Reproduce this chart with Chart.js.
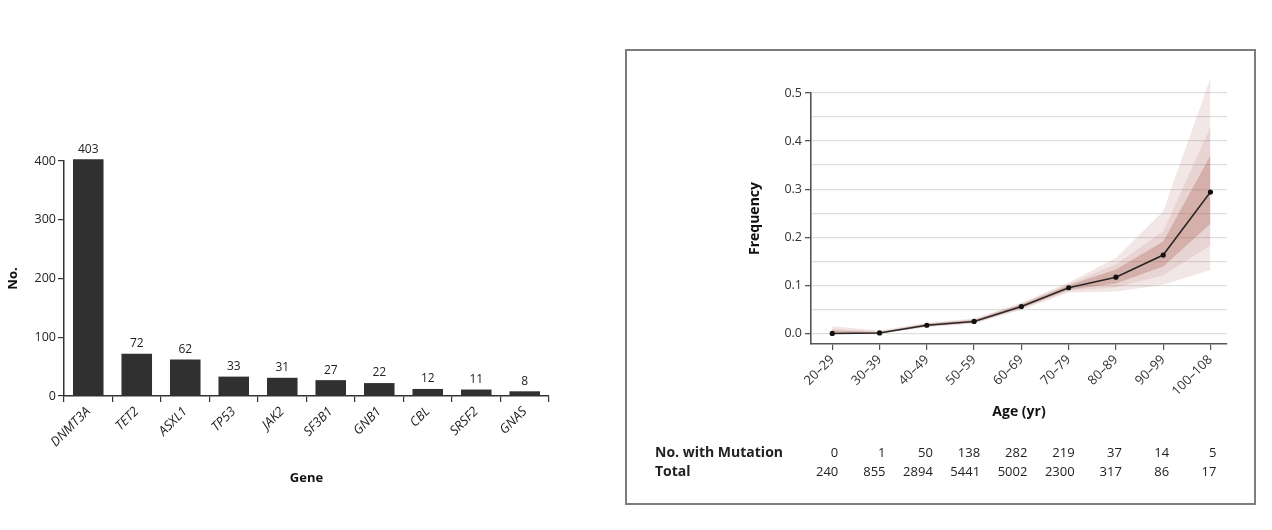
<!DOCTYPE html>
<html>
<head>
<meta charset="utf-8">
<script src="https://cdn.jsdelivr.net/npm/chart.js@4.4.1/dist/chart.umd.min.js"></script>
<style>
    body { margin: 0; background: #fff; width: 1272px; height: 530px; position: relative; overflow: hidden; }
    #left { position: absolute; left: 0; top: 130px; width: 560px; height: 370px; }
    #box { position: absolute; left: 625px; top: 49px; width: 631px; height: 456px; border: 2px solid #7d7d7d; box-sizing: border-box; }
    #right { position: absolute; left: 0; top: 0; width: 627px; height: 452px; }
</style>
</head>
<body>
<div id="left"><canvas id="geneChart" width="560" height="370"></canvas></div>
<div id="box"><div id="right"><canvas id="ageChart" width="627" height="452"></canvas></div></div>
<script>
// Datos del gráfico de barras (genes)
const genes = ['DNMT3A', 'TET2', 'ASXL1', 'TP53', 'JAK2', 'SF3B1', 'GNB1', 'CBL', 'SRSF2', 'GNAS'];
const geneCounts = [403, 72, 62, 33, 31, 27, 22, 12, 11, 8];
const geneTicks = [0, 100, 200, 300, 400];

// Datos del gráfico de frecuencia por edad
const ages = ['20–29', '30–39', '40–49', '50–59', '60–69', '70–79', '80–89', '90–99', '100–108'];
const frequency = [0.000, 0.001, 0.017, 0.025, 0.056, 0.095, 0.117, 0.163, 0.294];
const outerHi = [0.015, 0.006, 0.022, 0.031, 0.064, 0.106, 0.157, 0.254, 0.531];
const outerLo = [0.000, 0.000, 0.013, 0.020, 0.049, 0.085, 0.087, 0.101, 0.132];
const midHi   = [0.010, 0.004, 0.021, 0.029, 0.062, 0.103, 0.144, 0.212, 0.430];
const midLo   = [0.000, 0.000, 0.014, 0.021, 0.051, 0.088, 0.096, 0.121, 0.183];
const innerHi = [0.006, 0.003, 0.020, 0.028, 0.060, 0.100, 0.133, 0.191, 0.370];
const innerLo = [0.000, 0.000, 0.015, 0.023, 0.053, 0.091, 0.104, 0.139, 0.228];
const freqTicks = [0, 0.05, 0.1, 0.15, 0.2, 0.25, 0.3, 0.35, 0.4, 0.45, 0.5];
const withMutation = [0, 1, 50, 138, 282, 219, 37, 14, 5];
const totals = [240, 855, 2894, 5441, 5002, 2300, 317, 86, 17];

const FONT = '"Open Sans", "DejaVu Sans", sans-serif';
Chart.defaults.font.family = FONT;
Chart.defaults.color = '#333';
Chart.defaults.animation = false;

// Etiquetas encima de cada barra
const barLabels = {
    id: 'barLabels',
    afterDatasetsDraw(chart) {
        const ctx = chart.ctx;
        const meta = chart.getDatasetMeta(0);
        ctx.save();
        ctx.font = '12px ' + FONT;
        ctx.fillStyle = '#222';
        ctx.textAlign = 'center';
        ctx.textBaseline = 'bottom';
        meta.data.forEach((bar, i) => {
            ctx.fillText(String(geneCounts[i]), bar.x, bar.y - 4);
        });
        ctx.restore();
    }
};

new Chart(document.getElementById('geneChart'), {
    type: 'bar',
    data: {
        labels: genes,
        datasets: [{
            data: geneCounts,
            backgroundColor: '#303030',
            barPercentage: 0.63,
            categoryPercentage: 1,
            clip: false
        }]
    },
    options: {
        responsive: false,
        layout: { padding: { left: 0, top: 31, right: 11, bottom: 10 } },
        plugins: { legend: { display: false }, tooltip: { enabled: false } },
        scales: {
            x: {
                afterFit: s => { s.height = 94; },
                border: { color: '#333', width: 1.5 },
                grid: { drawOnChartArea: false, tickLength: 6, color: '#333', lineWidth: 1.2 },
                ticks: { minRotation: 45, maxRotation: 45, padding: 2, color: '#222', font: { size: 13, style: 'italic' } },
                title: { display: true, text: 'Gene', color: '#111', font: { size: 13, weight: 'bold' }, padding: { top: 0, bottom: 4 } }
            },
            y: {
                min: 0,
                max: 400,
                afterFit: s => { s.width = 64; },
                afterBuildTicks: s => { s.ticks = geneTicks.map(v => ({ value: v })); },
                border: { color: '#333', width: 1.5 },
                grid: { drawOnChartArea: false, tickLength: 6, color: '#333', lineWidth: 1.2 },
                ticks: { padding: 2, color: '#222', font: { size: 12.5 } },
                title: { display: true, text: 'No.', color: '#111', font: { size: 13, weight: 'bold' }, padding: { top: 5, bottom: 0 } }
            }
        }
    },
    plugins: [barLabels]
});

// Tabla debajo del eje x
const ageTable = {
    id: 'ageTable',
    afterDraw(chart) {
        const ctx = chart.ctx;
        const x = chart.scales.x;
        const rows = [['No. with Mutation', withMutation, 402], ['Total', totals, 421]];
        ctx.save();
        ctx.fillStyle = '#222';
        ctx.textBaseline = 'middle';
        rows.forEach(([name, vals, y]) => {
            ctx.font = 'bold 14px ' + FONT;
            ctx.textAlign = 'left';
            ctx.fillText(name, 28, y);
            ctx.font = '13px ' + FONT;
            ctx.textAlign = 'right';
            vals.forEach((v, i) => ctx.fillText(String(v), x.getPixelForValue(i) + 6, y));
        });
        ctx.restore();
    }
};

// Las bandas superan 0.5: se amplía el área mientras se dibujan los datasets
const bandOverflow = {
    id: 'bandOverflow',
    beforeDatasetsDraw(chart) {
        chart._areaBackup = chart.chartArea;
        chart.chartArea = Object.assign({}, chart.chartArea, { top: chart.chartArea.top - 30 });
    },
    afterDatasetsDraw(chart) {
        chart.chartArea = chart._areaBackup;
    }
};

const band = 'rgba(170, 95, 85, ';
const isMajor = v => Math.round(v * 100) % 10 === 0;

new Chart(document.getElementById('ageChart'), {
    type: 'line',
    data: {
        datasets: [
            { data: frequency.map((v, i) => ({ x: i, y: v })), borderColor: '#262626', borderWidth: 1.5,
              pointRadius: 2.6, pointBackgroundColor: '#111', pointBorderWidth: 0, fill: false },
            { data: innerHi.map((v, i) => ({ x: i, y: v })), pointRadius: 0, borderWidth: 0, fill: false, clip: false },
            { data: innerLo.map((v, i) => ({ x: i, y: v })), pointRadius: 0, borderWidth: 0, fill: '-1', clip: false, backgroundColor: band + '0.32)' },
            { data: midHi.map((v, i) => ({ x: i, y: v })), pointRadius: 0, borderWidth: 0, fill: false, clip: false },
            { data: midLo.map((v, i) => ({ x: i, y: v })), pointRadius: 0, borderWidth: 0, fill: '-1', clip: false, backgroundColor: band + '0.13)' },
            { data: outerHi.map((v, i) => ({ x: i, y: v })), pointRadius: 0, borderWidth: 0, fill: false, clip: false },
            { data: outerLo.map((v, i) => ({ x: i, y: v })), pointRadius: 0, borderWidth: 0, fill: '-1', clip: false, backgroundColor: band + '0.15)' }
        ]
    },
    options: {
        responsive: false,
        layout: { padding: { left: 112, top: 42, right: 27, bottom: 79 } },
        plugins: { legend: { display: false }, tooltip: { enabled: false } },
        scales: {
            x: {
                type: 'linear',
                min: -0.45,
                max: 8.35,
                afterFit: s => { s.height = 80; },
                afterBuildTicks: s => { s.ticks = ages.map((a, i) => ({ value: i })); },
                border: { color: '#555', width: 1.6 },
                grid: { drawOnChartArea: false, tickLength: 6, color: '#555', lineWidth: 1.2 },
                ticks: { minRotation: 45, maxRotation: 45, padding: 2, color: '#333', font: { size: 13 },
                         callback: v => ages[v] },
                title: { display: true, text: 'Age (yr)', color: '#111', font: { size: 14, weight: 'bold' }, padding: { top: 0, bottom: 4 } }
            },
            y: {
                min: -0.022,
                max: 0.5,
                afterFit: s => { s.width = 72; },
                afterBuildTicks: s => { s.ticks = freqTicks.map(v => ({ value: v })); },
                border: { color: '#555', width: 1.6 },
                grid: { color: '#dedede', lineWidth: 1.3, tickLength: 6,
                        tickColor: c => isMajor(c.tick.value) ? '#555' : 'rgba(0,0,0,0)' },
                ticks: { padding: 3, color: '#333', font: { size: 12.5 },
                         callback: v => isMajor(v) ? v.toFixed(1) : '' },
                title: { display: true, text: 'Frequency', color: '#111', font: { size: 14, weight: 'bold' }, padding: { top: 8, bottom: 0 } }
            }
        }
    },
    plugins: [bandOverflow, ageTable]
});
</script>
</body>
</html>
